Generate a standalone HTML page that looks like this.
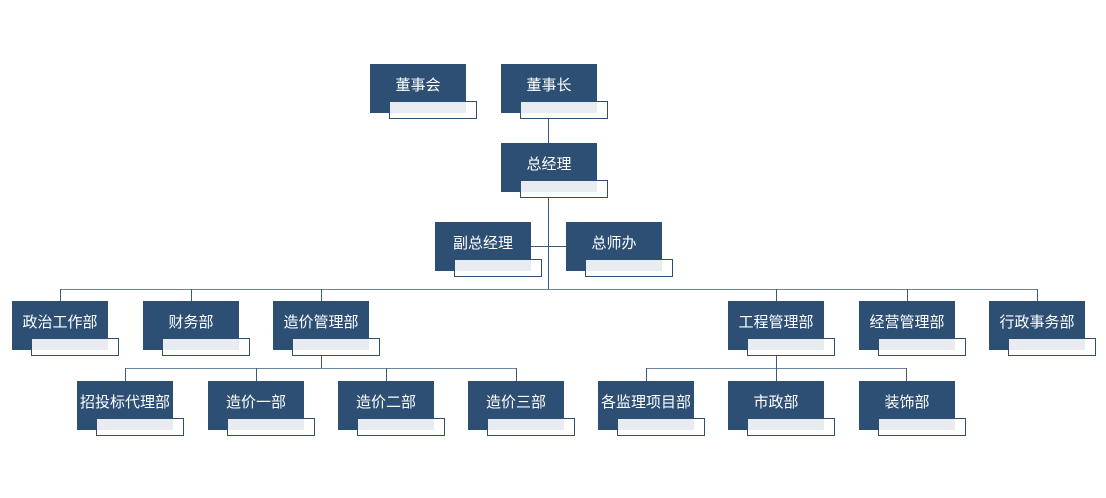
<!DOCTYPE html>
<html><head><meta charset="utf-8"><style>
body{margin:0;width:1106px;height:498px;background:#fff;position:relative;overflow:hidden;font-family:"Liberation Sans","Noto Sans CJK SC",sans-serif}
.n{position:absolute;width:96px;height:49px}
.d{position:absolute;left:0;top:0;width:96px;height:49px;background:#2c4f73}
.o{position:absolute;left:19px;top:37px;width:86px;height:16px;border:1px solid #2c4f73;background:#fff}
.g{position:absolute;left:20px;top:38px;width:76px;height:11px;background:#e8ecf1}
.t{position:absolute;left:0;top:11px;width:96px;text-align:center;color:#fff;font-size:15px;line-height:22px;white-space:nowrap}
.l{position:absolute;background:#3d5a78}
</style></head><body>
<div class="l" style="left:548px;top:117px;width:1px;height:26px"></div>
<div class="l" style="left:548px;top:197px;width:1px;height:92px"></div>
<div class="l" style="left:531px;top:246px;width:35px;height:1px"></div>
<div class="l" style="left:60px;top:289px;width:978px;height:1px;background:#6e85a0"></div>
<div class="l" style="left:60px;top:289px;width:1px;height:12px"></div>
<div class="l" style="left:191px;top:289px;width:1px;height:12px"></div>
<div class="l" style="left:321px;top:289px;width:1px;height:12px"></div>
<div class="l" style="left:776px;top:289px;width:1px;height:12px"></div>
<div class="l" style="left:907px;top:289px;width:1px;height:12px"></div>
<div class="l" style="left:1037px;top:289px;width:1px;height:12px"></div>
<div class="l" style="left:321px;top:355px;width:1px;height:14px"></div>
<div class="l" style="left:125px;top:368px;width:392px;height:1px;background:#6e85a0"></div>
<div class="l" style="left:125px;top:368px;width:1px;height:13px"></div>
<div class="l" style="left:256px;top:368px;width:1px;height:13px"></div>
<div class="l" style="left:386px;top:368px;width:1px;height:13px"></div>
<div class="l" style="left:516px;top:368px;width:1px;height:13px"></div>
<div class="l" style="left:776px;top:355px;width:1px;height:14px"></div>
<div class="l" style="left:646px;top:368px;width:261px;height:1px;background:#6e85a0"></div>
<div class="l" style="left:646px;top:368px;width:1px;height:13px"></div>
<div class="l" style="left:776px;top:368px;width:1px;height:13px"></div>
<div class="l" style="left:906px;top:368px;width:1px;height:13px"></div>

<div class="n" style="left:370px;top:64px"><div class="d"></div><div class="o"></div><div class="g"></div><div class="t">董事会</div></div>
<div class="n" style="left:501px;top:64px"><div class="d"></div><div class="o"></div><div class="g"></div><div class="t">董事长</div></div>
<div class="n" style="left:501px;top:143px"><div class="d"></div><div class="o"></div><div class="g"></div><div class="t">总经理</div></div>
<div class="n" style="left:435px;top:222px"><div class="d"></div><div class="o"></div><div class="g"></div><div class="t">副总经理</div></div>
<div class="n" style="left:566px;top:222px"><div class="d"></div><div class="o"></div><div class="g"></div><div class="t">总师办</div></div>

<div class="n" style="left:12px;top:301px"><div class="d"></div><div class="o"></div><div class="g"></div><div class="t">政治工作部</div></div>
<div class="n" style="left:143px;top:301px"><div class="d"></div><div class="o"></div><div class="g"></div><div class="t">财务部</div></div>
<div class="n" style="left:273px;top:301px"><div class="d"></div><div class="o"></div><div class="g"></div><div class="t">造价管理部</div></div>
<div class="n" style="left:728px;top:301px"><div class="d"></div><div class="o"></div><div class="g"></div><div class="t">工程管理部</div></div>
<div class="n" style="left:859px;top:301px"><div class="d"></div><div class="o"></div><div class="g"></div><div class="t">经营管理部</div></div>
<div class="n" style="left:989px;top:301px"><div class="d"></div><div class="o"></div><div class="g"></div><div class="t">行政事务部</div></div>

<div class="n" style="left:77px;top:381px"><div class="d"></div><div class="o"></div><div class="g"></div><div class="t">招投标代理部</div></div>
<div class="n" style="left:208px;top:381px"><div class="d"></div><div class="o"></div><div class="g"></div><div class="t">造价一部</div></div>
<div class="n" style="left:338px;top:381px"><div class="d"></div><div class="o"></div><div class="g"></div><div class="t">造价二部</div></div>
<div class="n" style="left:468px;top:381px"><div class="d"></div><div class="o"></div><div class="g"></div><div class="t">造价三部</div></div>
<div class="n" style="left:598px;top:381px"><div class="d"></div><div class="o"></div><div class="g"></div><div class="t">各监理项目部</div></div>
<div class="n" style="left:728px;top:381px"><div class="d"></div><div class="o"></div><div class="g"></div><div class="t">市政部</div></div>
<div class="n" style="left:859px;top:381px"><div class="d"></div><div class="o"></div><div class="g"></div><div class="t">装饰部</div></div>
</body></html>
